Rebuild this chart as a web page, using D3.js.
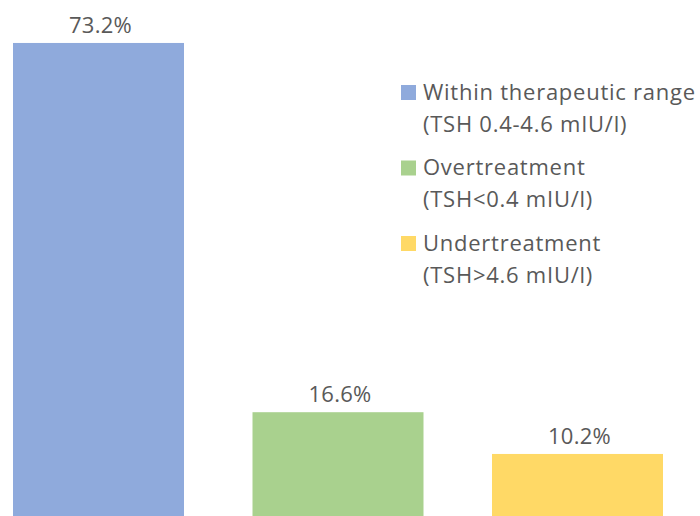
<!DOCTYPE html>
<html><head><meta charset="utf-8">
<script src="https://cdn.jsdelivr.net/npm/d3@7"></script>
<style>html,body{margin:0;padding:0;background:#fff;}svg{display:block;}</style>
</head><body>
<svg id="c" width="700" height="516"></svg>
<script>
const categories = ["Within therapeutic range", "Overtreatment", "Undertreatment"];
const subLabels = ["(TSH 0.4-4.6 mIU/l)", "(TSH<0.4 mIU/l)", "(TSH>4.6 mIU/l)"];
const values = [73.2, 16.6, 10.2];
const colors = ["#8faadc", "#a9d18e", "#ffd966"];

const svg = d3.select("#c");
const font = "'Open Sans', 'Noto Sans', sans-serif";
const textColor = "#595959";

const x = d3.scaleBand().domain(categories).range([-21.25, 697.25]).paddingInner(0.286).paddingOuter(0.143);
const y = d3.scaleLinear().domain([0, 80]).range([520.5, -1.4]);

svg.selectAll("rect.bar").data(values).join("rect")
  .attr("class", "bar")
  .attr("x", (d, i) => x(categories[i]))
  .attr("width", x.bandwidth())
  .attr("y", d => y(d))
  .attr("height", d => y(0) - y(d))
  .attr("fill", (d, i) => colors[i]);

svg.selectAll("text.val").data(values).join("text")
  .attr("class", "val")
  .attr("x", (d, i) => x(categories[i]) + x.bandwidth() / 2 + 2)
  .attr("y", d => y(d) - 10)
  .attr("text-anchor", "middle")
  .attr("font-family", font)
  .attr("font-size", 22)
  .attr("letter-spacing", 0.3)
  .attr("fill", textColor)
  .text(d => d.toFixed(1) + "%");

const lg = svg.append("g");
const entryStep = 75.5;
categories.forEach((c, i) => {
  const g = lg.append("g").attr("transform", `translate(0,${i * entryStep})`);
  g.append("rect").attr("x", 401).attr("y", 85).attr("width", 15).attr("height", 15).attr("fill", colors[i]);
  g.append("text").attr("x", 423).attr("y", 99.5).attr("font-family", font).attr("font-size", 22).attr("letter-spacing", 0.75).attr("fill", textColor).text(c);
  g.append("text").attr("x", 423).attr("y", 131.5).attr("font-family", font).attr("font-size", 22).attr("letter-spacing", 0.75).attr("fill", textColor).text(subLabels[i]);
});
</script>
</body></html>
